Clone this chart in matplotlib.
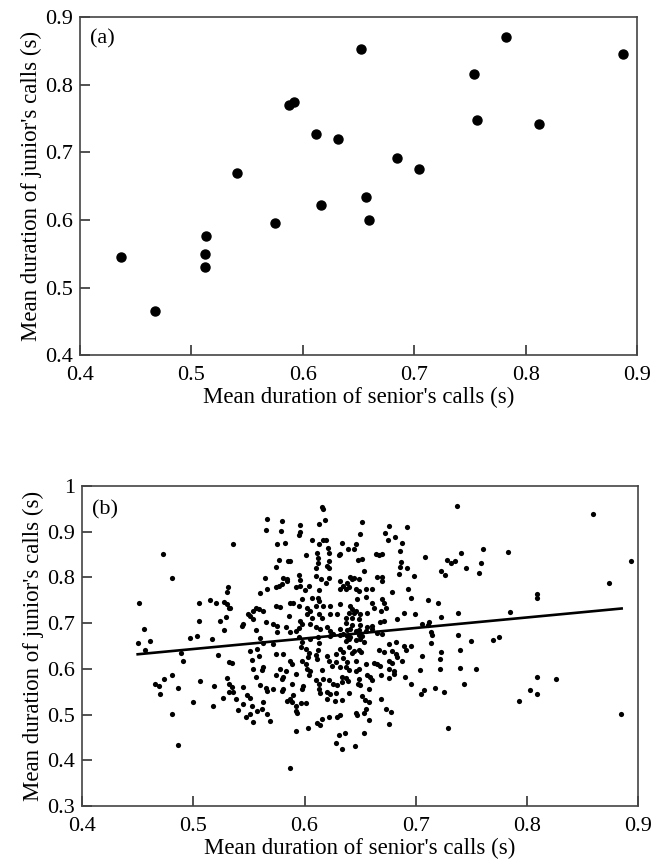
import matplotlib
matplotlib.use("Agg")
import matplotlib.pyplot as plt
import matplotlib.ticker as ticker

# panel (a): one point per pair
senior_a = [0.437, 0.467, 0.512, 0.512, 0.513, 0.541, 0.575, 0.588, 0.592, 0.612,
            0.616, 0.632, 0.652, 0.657, 0.659, 0.685, 0.704, 0.754, 0.756, 0.782,
            0.812, 0.887]
junior_a = [0.545, 0.465, 0.530, 0.550, 0.576, 0.670, 0.595, 0.770, 0.775, 0.727,
            0.622, 0.720, 0.853, 0.634, 0.600, 0.691, 0.675, 0.816, 0.748, 0.871,
            0.742, 0.845]

# panel (b): individual calls (senior, junior)
calls_b = [
    (0.473, 0.852),
    (0.616, 0.954), (0.617, 0.950), (0.566, 0.928), (0.580, 0.923), (0.618, 0.926), (0.613, 0.916),
    (0.596, 0.914), (0.565, 0.904), (0.579, 0.901), (0.596, 0.899), (0.595, 0.893), (0.536, 0.873),
    (0.575, 0.873), (0.582, 0.875), (0.607, 0.881), (0.613, 0.873), (0.617, 0.882), (0.619, 0.882),
    (0.621, 0.865), (0.611, 0.853), (0.601, 0.849), (0.622, 0.854), (0.631, 0.849), (0.612, 0.843),
    (0.577, 0.837), (0.585, 0.836), (0.587, 0.836), (0.622, 0.836), (0.612, 0.832),
    (0.652, 0.920), (0.676, 0.913), (0.692, 0.909), (0.650, 0.894), (0.672, 0.896), (0.681, 0.888),
    (0.675, 0.882), (0.634, 0.876), (0.646, 0.872), (0.688, 0.875), (0.639, 0.862), (0.644, 0.862),
    (0.686, 0.857), (0.632, 0.850), (0.664, 0.850), (0.667, 0.849), (0.670, 0.851), (0.708, 0.844),
    (0.648, 0.837), (0.652, 0.840), (0.687, 0.834), (0.728, 0.837),
    (0.737, 0.957), (0.859, 0.938), (0.741, 0.854), (0.760, 0.862), (0.783, 0.855), (0.735, 0.836),
    (0.732, 0.832), (0.759, 0.832), (0.893, 0.835),
    (0.481, 0.799), (0.451, 0.745), (0.505, 0.745), (0.515, 0.751), (0.520, 0.743), (0.531, 0.778),
    (0.530, 0.767), (0.528, 0.747), (0.530, 0.741), (0.532, 0.733), (0.529, 0.714), (0.524, 0.705),
    (0.505, 0.704), (0.528, 0.685), (0.456, 0.688), (0.450, 0.656), (0.461, 0.662), (0.457, 0.641),
    (0.497, 0.668), (0.503, 0.671), (0.517, 0.665), (0.489, 0.634), (0.491, 0.617), (0.522, 0.631),
    (0.532, 0.615), (0.481, 0.587),
    (0.466, 0.567), (0.469, 0.562), (0.474, 0.578), (0.470, 0.546), (0.486, 0.558), (0.506, 0.574),
    (0.519, 0.562), (0.530, 0.580), (0.532, 0.566), (0.532, 0.549), (0.527, 0.536), (0.500, 0.528),
    (0.518, 0.520), (0.481, 0.501), (0.486, 0.433),
    (0.745, 0.820), (0.757, 0.810), (0.874, 0.787), (0.809, 0.764), (0.809, 0.755), (0.738, 0.723),
    (0.785, 0.725), (0.738, 0.675), (0.750, 0.660), (0.769, 0.663), (0.775, 0.669), (0.740, 0.641),
    (0.740, 0.602), (0.754, 0.599),
    (0.743, 0.568), (0.809, 0.582), (0.826, 0.578), (0.803, 0.553), (0.809, 0.546), (0.793, 0.530),
    (0.884, 0.502),
    (0.634, 0.582), (0.637, 0.580), (0.639, 0.573), (0.634, 0.571), (0.649, 0.578), (0.648, 0.567),
    (0.650, 0.565), (0.656, 0.586), (0.659, 0.582), (0.661, 0.575), (0.669, 0.586), (0.676, 0.580),
    (0.690, 0.582), (0.680, 0.588), (0.696, 0.566), (0.707, 0.554), (0.705, 0.546), (0.717, 0.559),
    (0.725, 0.549), (0.658, 0.557), (0.640, 0.548), (0.634, 0.533), (0.652, 0.540), (0.654, 0.533),
    (0.658, 0.528), (0.669, 0.535), (0.655, 0.513), (0.653, 0.504), (0.646, 0.504), (0.647, 0.499),
    (0.632, 0.499), (0.673, 0.512), (0.678, 0.505), (0.658, 0.488), (0.676, 0.480), (0.636, 0.460),
    (0.653, 0.460), (0.645, 0.432), (0.634, 0.425), (0.729, 0.471),
    (0.556, 0.582), (0.574, 0.586), (0.581, 0.583), (0.580, 0.578), (0.592, 0.589), (0.604, 0.586),
    (0.610, 0.575), (0.613, 0.567), (0.613, 0.557), (0.614, 0.547), (0.617, 0.578), (0.622, 0.575),
    (0.626, 0.567), (0.629, 0.564), (0.535, 0.560), (0.536, 0.549), (0.538, 0.535), (0.545, 0.560),
    (0.560, 0.564), (0.565, 0.559), (0.566, 0.551), (0.572, 0.557), (0.580, 0.551), (0.581, 0.557),
    (0.589, 0.567), (0.598, 0.557), (0.599, 0.562), (0.548, 0.544), (0.551, 0.537), (0.584, 0.530),
    (0.587, 0.535), (0.589, 0.528), (0.590, 0.542), (0.597, 0.525), (0.601, 0.525), (0.592, 0.520),
    (0.592, 0.509), (0.593, 0.504), (0.545, 0.524), (0.540, 0.511), (0.553, 0.520), (0.557, 0.509),
    (0.563, 0.528), (0.562, 0.513), (0.566, 0.502), (0.547, 0.495), (0.551, 0.501), (0.554, 0.484),
    (0.569, 0.486), (0.592, 0.465), (0.603, 0.472), (0.611, 0.482), (0.614, 0.477), (0.616, 0.491),
    (0.622, 0.495), (0.629, 0.495), (0.631, 0.455), (0.628, 0.438), (0.587, 0.383), (0.620, 0.549),
    (0.623, 0.546), (0.628, 0.547), (0.620, 0.535), (0.627, 0.531),
    (0.574, 0.823), (0.610, 0.821), (0.620, 0.825), (0.622, 0.820), (0.564, 0.799), (0.581, 0.798),
    (0.584, 0.796), (0.584, 0.792), (0.595, 0.805), (0.596, 0.794), (0.610, 0.803), (0.615, 0.796),
    (0.622, 0.799), (0.619, 0.788), (0.566, 0.774), (0.574, 0.778), (0.577, 0.781), (0.580, 0.785),
    (0.592, 0.778), (0.596, 0.781), (0.604, 0.781), (0.600, 0.772), (0.613, 0.772), (0.560, 0.765),
    (0.533, 0.734), (0.598, 0.752), (0.607, 0.756), (0.612, 0.756), (0.613, 0.749), (0.587, 0.745),
    (0.590, 0.743), (0.574, 0.738), (0.578, 0.736), (0.556, 0.734), (0.559, 0.731), (0.563, 0.727),
    (0.554, 0.727), (0.549, 0.720), (0.551, 0.716), (0.595, 0.738), (0.602, 0.734), (0.605, 0.727),
    (0.610, 0.738), (0.617, 0.738), (0.623, 0.738), (0.613, 0.720), (0.616, 0.712), (0.623, 0.721),
    (0.629, 0.720), (0.586, 0.716), (0.602, 0.720), (0.607, 0.711), (0.554, 0.709), (0.565, 0.702),
    (0.545, 0.699), (0.544, 0.694), (0.572, 0.699), (0.575, 0.694), (0.583, 0.692), (0.596, 0.705),
    (0.598, 0.698), (0.595, 0.689), (0.605, 0.698), (0.610, 0.691), (0.614, 0.687), (0.620, 0.692),
    (0.623, 0.683), (0.592, 0.683), (0.587, 0.680), (0.556, 0.685), (0.560, 0.667), (0.575, 0.680),
    (0.623, 0.673), (0.626, 0.676), (0.612, 0.670), (0.595, 0.669), (0.598, 0.658), (0.597, 0.647),
    (0.605, 0.665), (0.563, 0.656), (0.572, 0.654), (0.613, 0.656), (0.601, 0.644), (0.604, 0.634),
    (0.603, 0.625), (0.612, 0.641), (0.557, 0.644), (0.559, 0.629), (0.581, 0.633), (0.574, 0.633),
    (0.610, 0.631), (0.611, 0.622), (0.553, 0.620), (0.587, 0.617), (0.589, 0.611), (0.598, 0.618),
    (0.601, 0.611), (0.620, 0.629), (0.622, 0.618), (0.628, 0.633), (0.535, 0.612), (0.563, 0.604),
    (0.562, 0.598), (0.578, 0.600), (0.583, 0.596), (0.602, 0.600), (0.605, 0.596), (0.554, 0.600),
    (0.625, 0.607), (0.628, 0.615), (0.616, 0.598), (0.551, 0.640),
    (0.653, 0.814), (0.686, 0.823), (0.692, 0.821), (0.723, 0.815), (0.726, 0.805), (0.665, 0.801),
    (0.670, 0.801), (0.670, 0.792), (0.685, 0.807), (0.698, 0.803), (0.641, 0.801), (0.643, 0.796),
    (0.644, 0.798), (0.649, 0.796), (0.632, 0.792), (0.638, 0.788), (0.635, 0.781), (0.632, 0.774),
    (0.637, 0.774), (0.640, 0.778), (0.646, 0.774), (0.649, 0.770), (0.655, 0.774), (0.661, 0.774),
    (0.679, 0.767), (0.693, 0.774), (0.655, 0.757), (0.647, 0.752), (0.696, 0.756), (0.711, 0.750),
    (0.720, 0.745), (0.670, 0.752), (0.671, 0.743), (0.673, 0.734), (0.661, 0.745), (0.662, 0.733),
    (0.632, 0.741), (0.641, 0.738), (0.643, 0.731), (0.644, 0.723), (0.646, 0.727), (0.640, 0.723),
    (0.650, 0.720), (0.656, 0.723), (0.669, 0.727), (0.689, 0.723), (0.699, 0.720), (0.683, 0.709),
    (0.723, 0.714), (0.637, 0.712), (0.643, 0.712), (0.649, 0.709), (0.668, 0.702), (0.671, 0.704),
    (0.637, 0.700), (0.643, 0.696), (0.650, 0.696), (0.706, 0.699), (0.711, 0.696), (0.712, 0.702),
    (0.656, 0.691), (0.661, 0.694), (0.661, 0.687), (0.632, 0.687), (0.638, 0.685), (0.641, 0.687),
    (0.646, 0.683), (0.649, 0.685), (0.655, 0.683), (0.665, 0.678), (0.670, 0.676), (0.632, 0.675),
    (0.635, 0.676), (0.638, 0.673), (0.641, 0.670), (0.649, 0.675), (0.652, 0.673), (0.714, 0.680),
    (0.715, 0.675), (0.637, 0.662), (0.640, 0.665), (0.646, 0.663), (0.650, 0.665), (0.653, 0.658),
    (0.714, 0.656), (0.676, 0.654), (0.682, 0.658), (0.689, 0.651), (0.691, 0.641), (0.696, 0.651),
    (0.632, 0.644), (0.635, 0.636), (0.640, 0.647), (0.644, 0.640), (0.643, 0.634), (0.649, 0.641),
    (0.651, 0.638), (0.667, 0.641), (0.671, 0.636), (0.679, 0.640), (0.682, 0.633), (0.683, 0.625),
    (0.706, 0.629), (0.723, 0.638), (0.635, 0.624), (0.638, 0.615), (0.646, 0.618), (0.655, 0.611),
    (0.662, 0.612), (0.665, 0.611), (0.668, 0.607), (0.676, 0.618), (0.679, 0.612), (0.688, 0.618),
    (0.722, 0.622), (0.632, 0.605), (0.637, 0.604), (0.640, 0.598), (0.646, 0.595), (0.649, 0.600),
    (0.676, 0.600), (0.680, 0.596), (0.704, 0.598), (0.722, 0.600),
]
senior_b = [p[0] for p in calls_b]
junior_b = [p[1] for p in calls_b]

# fitted line for panel (b)
fit_x = [0.450, 0.885]
fit_y = [0.632, 0.732]

plt.rcParams["font.family"] = "Liberation Serif"
plt.rcParams["font.size"] = 16

fig = plt.figure(figsize=(6.67, 8.66), dpi=100)
ax_a = fig.add_axes([0.120, 0.590, 0.835, 0.390])
ax_b = fig.add_axes([0.123, 0.069, 0.834, 0.370])


def style_axes(ax):
    for s in ax.spines.values():
        s.set_color("#444444")
        s.set_linewidth(1.2)
    ax.tick_params(direction="in", length=7, width=1.2, color="#333333",
                   top=False, right=False, labelsize=16)
    ax.tick_params(axis="x", pad=8)
    ax.tick_params(axis="y", pad=5)
    ax.xaxis.set_major_formatter(ticker.FormatStrFormatter("%g"))
    ax.yaxis.set_major_formatter(ticker.FormatStrFormatter("%g"))
    ax.set_xlabel("Mean duration of senior's calls (s)", fontsize=16.5, labelpad=1)
    ax.set_ylabel("Mean duration of junior's calls (s)", fontsize=16.5, labelpad=2)


ax_a.plot(senior_a, junior_a, "o", color="black", markersize=6.5, linestyle="none")
ax_a.set_xlim(0.4, 0.9)
ax_a.set_ylim(0.4, 0.9)
ax_a.set_xticks([0.4, 0.5, 0.6, 0.7, 0.8, 0.9])
ax_a.set_yticks([0.4, 0.5, 0.6, 0.7, 0.8, 0.9])
style_axes(ax_a)
ax_a.text(0.018, 0.965, "(a)", transform=ax_a.transAxes, ha="left", va="top", fontsize=16)

ax_b.scatter(senior_b, junior_b, s=14, color="black", linewidths=0)
ax_b.plot(fit_x, fit_y, color="black", linewidth=1.9)
ax_b.set_xlim(0.4, 0.9)
ax_b.set_ylim(0.3, 1.0)
ax_b.set_xticks([0.4, 0.5, 0.6, 0.7, 0.8, 0.9])
ax_b.set_yticks([0.3, 0.4, 0.5, 0.6, 0.7, 0.8, 0.9, 1.0])
style_axes(ax_b)
ax_b.text(0.018, 0.955, "(b)", transform=ax_b.transAxes, ha="left", va="top", fontsize=16)

fig.savefig("out.png", dpi=100)
